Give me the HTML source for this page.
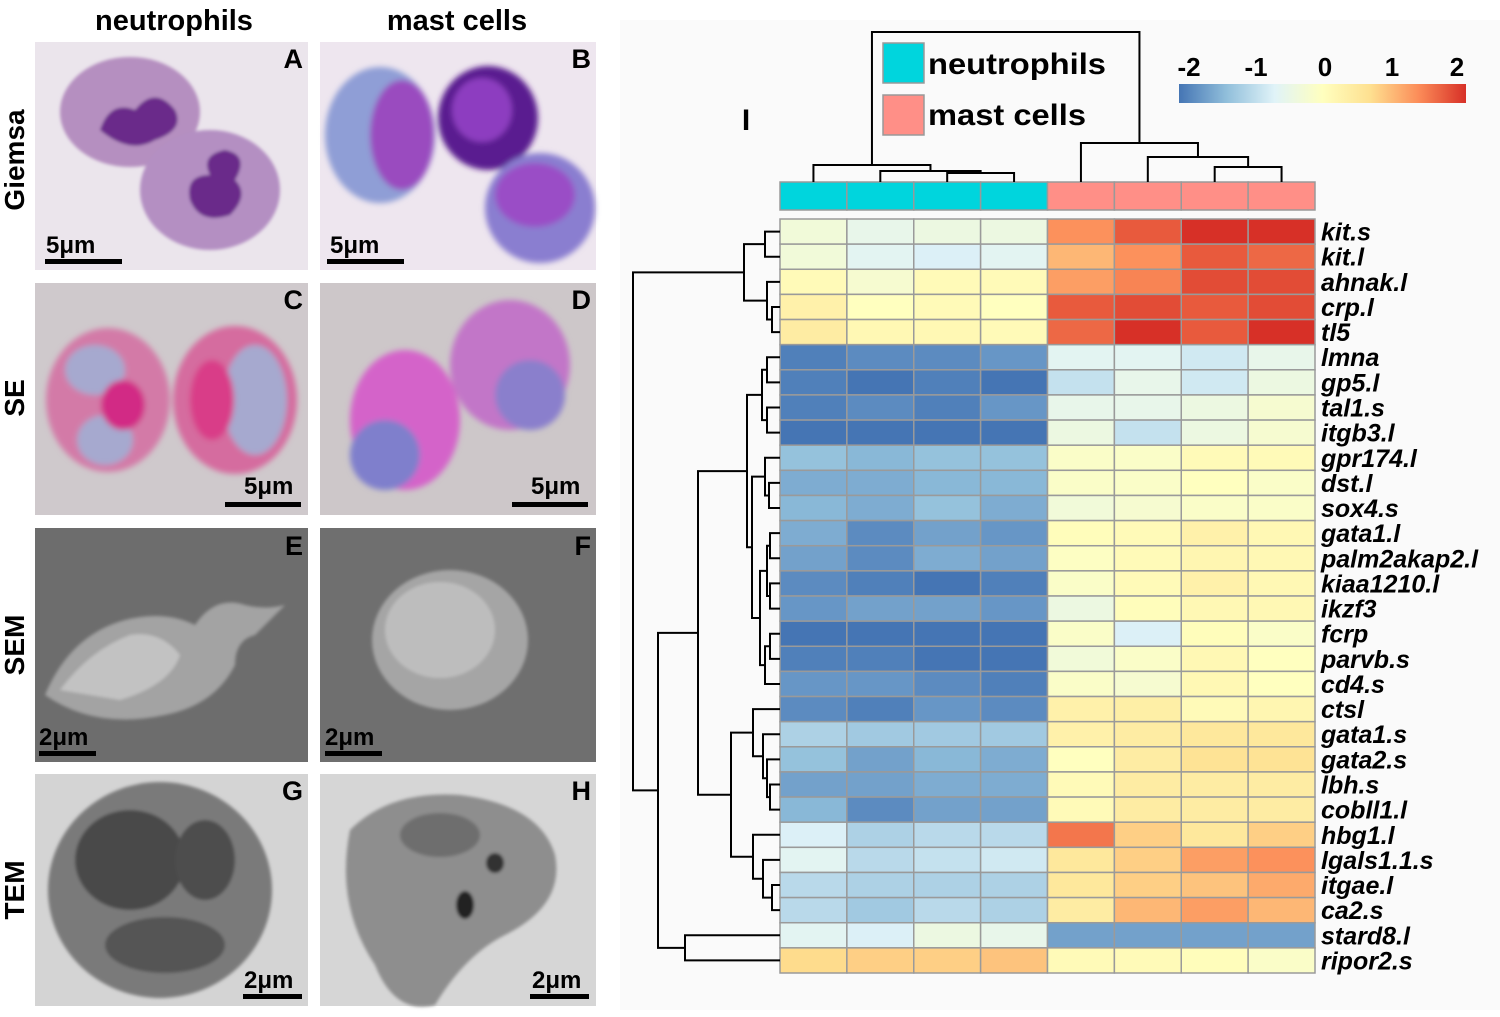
<!DOCTYPE html>
<html><head><meta charset="utf-8">
<style>
html,body{margin:0;padding:0;background:#fff;}
svg{display:block;font-family:"Liberation Sans",Arial,sans-serif;}
</style></head>
<body>
<svg id="fig" width="1500" height="1017" viewBox="0 0 1500 1017" xmlns="http://www.w3.org/2000/svg">
<defs>
<linearGradient id="scaleGrad" x1="0" x2="1" y1="0" y2="0">
<stop offset="0" stop-color="#4575B4"/><stop offset="0.1667" stop-color="#91BFDB"/><stop offset="0.3333" stop-color="#E0F3F8"/><stop offset="0.5" stop-color="#FFFFBF"/><stop offset="0.6667" stop-color="#FEE090"/><stop offset="0.8333" stop-color="#FC8D59"/><stop offset="1" stop-color="#D73027"/>
</linearGradient>
<filter id="blur2"><feGaussianBlur stdDeviation="3"/></filter>
<filter id="blur1"><feGaussianBlur stdDeviation="1.5"/></filter>
</defs>
<rect x="0" y="0" width="1500" height="1017" fill="#fff"/>
<rect x="620" y="20" width="880" height="990" fill="#fafafa"/>

<!-- left micrograph panels -->
<g>
<text x="174" y="30" text-anchor="middle" font-size="29" font-weight="bold">neutrophils</text>
<text x="457" y="30" text-anchor="middle" font-size="29" font-weight="bold">mast cells</text>
<text transform="translate(24,160) rotate(-90)" text-anchor="middle" font-size="28" font-weight="bold">Giemsa</text>
<text transform="translate(24,398) rotate(-90)" text-anchor="middle" font-size="28" font-weight="bold">SE</text>
<text transform="translate(24,645) rotate(-90)" text-anchor="middle" font-size="28" font-weight="bold">SEM</text>
<text transform="translate(24,890) rotate(-90)" text-anchor="middle" font-size="28" font-weight="bold">TEM</text>

<!-- A -->
<g>
<rect x="35" y="42" width="273" height="228" fill="#ebe5ec"/>
<g filter="url(#blur1)">
<ellipse cx="130" cy="112" rx="70" ry="55" fill="#b58fc0"/>
<ellipse cx="210" cy="190" rx="70" ry="60" fill="#b48fc2"/>
<path d="M100,130 q10,-30 35,-20 q20,-25 40,0 q10,20 -20,30 q-25,15 -55,-10z" fill="#6a2a8a"/>
<path d="M190,200 q-5,-25 20,-25 q-10,-20 15,-25 q25,5 10,30 q15,15 -5,35 q-30,10 -40,-15z" fill="#6a2a8a"/>
</g>
<text x="303" y="68" text-anchor="end" font-size="27" font-weight="bold">A</text>
<text x="46" y="253" font-size="24" font-weight="bold">5μm</text>
<rect x="45" y="259" width="77" height="5" fill="#000"/>
</g>
<!-- B -->
<g>
<rect x="320" y="42" width="276" height="228" fill="#eee6ef"/>
<g filter="url(#blur2)">
<ellipse cx="380" cy="135" rx="55" ry="68" fill="#8f9ed6"/>
<ellipse cx="402" cy="135" rx="32" ry="55" fill="#9a4bbf"/>
<ellipse cx="488" cy="118" rx="50" ry="52" fill="#5a1c90"/>
<ellipse cx="482" cy="110" rx="30" ry="32" fill="#8d3ec0"/>
<ellipse cx="540" cy="208" rx="55" ry="55" fill="#8a7ed0"/>
<ellipse cx="535" cy="195" rx="40" ry="32" fill="#9a4ec6"/>
</g>
<text x="591" y="68" text-anchor="end" font-size="27" font-weight="bold">B</text>
<text x="330" y="253" font-size="24" font-weight="bold">5μm</text>
<rect x="327" y="259" width="77" height="5" fill="#000"/>
</g>
<!-- C -->
<g>
<rect x="35" y="283" width="273" height="232" fill="#cfc9cc"/>
<g filter="url(#blur2)">
<ellipse cx="108" cy="400" rx="62" ry="72" fill="#d37aa7"/>
<ellipse cx="235" cy="400" rx="62" ry="74" fill="#d56c9f"/>
<ellipse cx="95" cy="370" rx="30" ry="25" fill="#a6a9cf"/>
<ellipse cx="105" cy="440" rx="28" ry="25" fill="#a6a9cf"/>
<ellipse cx="255" cy="400" rx="32" ry="55" fill="#a6a9cf"/>
<ellipse cx="123" cy="405" rx="22" ry="25" fill="#d22b85"/>
<ellipse cx="212" cy="400" rx="22" ry="40" fill="#d93d88"/>
</g>
<text x="303" y="309" text-anchor="end" font-size="27" font-weight="bold">C</text>
<text x="244" y="494" font-size="24" font-weight="bold">5μm</text>
<rect x="225" y="502" width="76" height="5" fill="#000"/>
</g>
<!-- D -->
<g>
<rect x="320" y="283" width="276" height="232" fill="#cdc7c9"/>
<g filter="url(#blur2)">
<ellipse cx="510" cy="365" rx="60" ry="65" fill="#c276c8"/>
<ellipse cx="530" cy="395" rx="35" ry="35" fill="#8a7fcc"/>
<ellipse cx="405" cy="420" rx="55" ry="70" fill="#d463c9"/>
<ellipse cx="385" cy="455" rx="35" ry="35" fill="#7f7fcc"/>
</g>
<text x="591" y="309" text-anchor="end" font-size="27" font-weight="bold">D</text>
<text x="531" y="494" font-size="24" font-weight="bold">5μm</text>
<rect x="512" y="502" width="76" height="5" fill="#000"/>
</g>
<!-- E -->
<g>
<rect x="35" y="528" width="273" height="234" fill="#6d6d6d"/>
<g filter="url(#blur1)">
<path d="M45,695 q25,-60 80,-75 q40,-10 70,5 q20,-30 50,-20 q20,5 40,0 l-30,30 q-20,5 -20,30 q-20,40 -70,50 q-70,15 -120,-20z" fill="#a3a3a3"/>
<path d="M60,690 q30,-40 70,-55 q30,-5 50,20 q-10,30 -60,45z" fill="#c2c2c2"/>
</g>
<text x="303" y="555" text-anchor="end" font-size="27" font-weight="bold">E</text>
<text x="39" y="745" font-size="24" font-weight="bold">2μm</text>
<rect x="39" y="751" width="57" height="5" fill="#000"/>
</g>
<!-- F -->
<g>
<rect x="320" y="528" width="276" height="234" fill="#6f6f6f"/>
<g filter="url(#blur1)">
<ellipse cx="450" cy="640" rx="78" ry="70" fill="#a5a5a5"/>
<ellipse cx="440" cy="630" rx="55" ry="48" fill="#bdbdbd"/>
</g>
<text x="591" y="555" text-anchor="end" font-size="27" font-weight="bold">F</text>
<text x="325" y="745" font-size="24" font-weight="bold">2μm</text>
<rect x="325" y="751" width="57" height="5" fill="#000"/>
</g>
<!-- G -->
<g>
<rect x="35" y="774" width="273" height="232" fill="#d4d4d4"/>
<g filter="url(#blur1)">
<ellipse cx="160" cy="890" rx="112" ry="108" fill="#7a7a7a"/>
<ellipse cx="130" cy="860" rx="55" ry="50" fill="#4a4a4a"/>
<ellipse cx="205" cy="860" rx="30" ry="40" fill="#4d4d4d"/>
<ellipse cx="165" cy="945" rx="60" ry="28" fill="#555"/>
</g>
<text x="303" y="800" text-anchor="end" font-size="27" font-weight="bold">G</text>
<text x="244" y="988" font-size="24" font-weight="bold">2μm</text>
<rect x="243" y="994" width="59" height="5" fill="#000"/>
</g>
<!-- H -->
<g>
<rect x="320" y="774" width="276" height="232" fill="#d6d6d6"/>
<g filter="url(#blur1)">
<path d="M350,830 q40,-40 110,-35 q80,10 95,60 q10,50 -50,80 q-40,20 -70,70 q-40,10 -60,-40 q-40,-60 -25,-135z" fill="#8e8e8e"/>
<ellipse cx="440" cy="835" rx="40" ry="22" fill="#6e6e6e"/>
<ellipse cx="465" cy="905" rx="9" ry="14" fill="#222"/>
<ellipse cx="495" cy="863" rx="9" ry="10" fill="#333"/>
</g>
<text x="591" y="800" text-anchor="end" font-size="27" font-weight="bold">H</text>
<text x="532" y="988" font-size="24" font-weight="bold">2μm</text>
<rect x="530" y="994" width="59" height="5" fill="#000"/>
</g>
</g>

<!-- heatmap static parts -->
<text x="746" y="130" text-anchor="middle" font-size="30" font-weight="bold">I</text>
<g id="heat"></g>
<g id="rowDendro"></g>
<g id="colDendro"></g>

<g>
<rect x="866" y="30" width="1" height="1" fill="none"/>
<rect x="883" y="43" width="41" height="40" fill="#00D5DD" stroke="#999" stroke-width="1.5"/>
<text x="928" y="74" font-size="30" font-weight="bold" textLength="178" lengthAdjust="spacingAndGlyphs" font-family="'Liberation Sans Narrow','Liberation Sans',sans-serif">neutrophils</text>
<rect x="883" y="95" width="41" height="40" fill="#FF8F87" stroke="#999" stroke-width="1.5"/>
<text x="928" y="125" font-size="30" font-weight="bold" textLength="158" lengthAdjust="spacingAndGlyphs" font-family="'Liberation Sans Narrow','Liberation Sans',sans-serif">mast cells</text>
</g>

<g>
<rect x="1179" y="84" width="287" height="19" fill="url(#scaleGrad)"/>
<g font-size="26" font-weight="bold" text-anchor="middle" font-family="'Liberation Sans Narrow','Liberation Sans',sans-serif">
<text x="1189" y="76">-2</text>
<text x="1256" y="76">-1</text>
<text x="1325" y="76">0</text>
<text x="1392" y="76">1</text>
<text x="1457" y="76">2</text>
</g>
</g>
</svg>
<script>
const genes = ["kit.s","kit.l","ahnak.l","crp.l","tl5","lmna","gp5.l","tal1.s","itgb3.l","gpr174.l","dst.l","sox4.s","gata1.l","palm2akap2.l","kiaa1210.l","ikzf3","fcrp","parvb.s","cd4.s","ctsl","gata1.s","gata2.s","lbh.s","cobll1.l","hbg1.l","lgals1.1.s","itgae.l","ca2.s","stard8.l","ripor2.s"];
const sampleGroups = ["neutrophils","neutrophils","neutrophils","neutrophils","mast cells","mast cells","mast cells","mast cells"];
const neutrophilValues = [
[-0.3,-0.5,-0.4,-0.4],[-0.3,-0.6,-0.7,-0.6],[0.1,-0.2,0.1,0.1],[0.3,0.0,0.1,0.0],[0.4,0.15,0.15,0.1],
[-1.9,-1.8,-1.8,-1.7],[-1.9,-2.0,-1.9,-2.0],[-1.9,-1.8,-1.9,-1.7],[-2.2,-2.2,-2.0,-2.2],
[-1.3,-1.4,-1.3,-1.3],[-1.5,-1.5,-1.4,-1.4],[-1.4,-1.5,-1.3,-1.5],[-1.5,-1.8,-1.6,-1.7],[-1.6,-1.8,-1.5,-1.6],
[-1.8,-1.9,-2.0,-1.9],[-1.7,-1.6,-1.6,-1.7],[-2.0,-2.0,-2.1,-2.0],[-1.9,-1.9,-2.0,-2.0],[-1.7,-1.7,-1.8,-1.9],
[-1.8,-1.9,-1.7,-1.8],[-1.1,-1.2,-1.2,-1.2],[-1.3,-1.6,-1.4,-1.5],[-1.6,-1.6,-1.5,-1.5],[-1.4,-1.8,-1.6,-1.6],
[-0.7,-1.1,-1.0,-1.0],[-0.6,-1.0,-0.9,-0.8],[-1.0,-1.1,-1.1,-1.1],[-1.0,-1.2,-1.0,-1.1],[-0.6,-0.7,-0.4,-0.5],[0.7,0.8,0.8,0.9]];
const mastValues = [
[1.3,1.7,2.1,2.1],[1.0,1.3,1.7,1.6],[1.2,1.4,1.8,1.8],[1.7,1.8,1.7,1.8],[1.6,2.1,1.7,2.1],
[-0.6,-0.6,-0.8,-0.5],[-0.9,-0.5,-0.8,-0.4],[-0.5,-0.5,-0.4,-0.2],[-0.4,-0.9,-0.4,-0.2],
[-0.1,-0.1,0.1,0.1],[-0.1,-0.1,0.0,-0.1],[-0.3,-0.2,-0.1,-0.1],[0.05,0.1,0.3,0.15],[-0.05,0.1,0.2,0.15],
[-0.1,0.1,0.3,0.15],[-0.4,0.05,0.15,0.15],[-0.1,-0.7,0.05,-0.1],[-0.3,-0.1,0.15,0.0],[-0.1,-0.2,0.15,0.0],
[0.3,0.35,0.1,0.2],[0.3,0.4,0.5,0.5],[0.0,0.4,0.6,0.6],[0.1,0.4,0.4,0.4],[0.1,0.4,0.4,0.4],
[1.5,0.8,0.5,0.8],[0.5,0.8,1.2,1.3],[0.5,0.8,0.9,1.1],[0.4,1.0,1.2,1.0],[-1.6,-1.6,-1.6,-1.6],[0.1,0.1,0.05,-0.1]];
const scaleStops = [-2,-1.333,-0.667,0,0.667,1.333,2];
const scaleColors = ["#4575B4","#91BFDB","#E0F3F8","#FFFFBF","#FEE090","#FC8D59","#D73027"];

const NS="http://www.w3.org/2000/svg";
const X0=780, X1=1315, Y0=219, Y1=973;
const nCols=8, nRows=genes.length;
const cw=(X1-X0)/nCols, rh=(Y1-Y0)/nRows;
function xScale(c){return X0+c*cw;}
function yScale(r){return Y0+r*rh;}
function hex2rgb(h){return [1,3,5].map(i=>parseInt(h.substr(i,2),16));}
function colorOf(v){
  v=Math.max(-2,Math.min(2,v));
  for(let i=0;i<scaleStops.length-1;i++){
    if(v<=scaleStops[i+1]){
      const t=(v-scaleStops[i])/(scaleStops[i+1]-scaleStops[i]);
      const a=hex2rgb(scaleColors[i]), b=hex2rgb(scaleColors[i+1]);
      return "rgb("+a.map((x,k)=>Math.round(x+(b[k]-x)*t)).join(",")+")";
    }
  }
  return scaleColors[scaleColors.length-1];
}
function mk(tag,attrs,parent){const e=document.createElementNS(NS,tag);for(const k in attrs)e.setAttribute(k,attrs[k]);parent.appendChild(e);return e;}
const heat=document.getElementById("heat");
// annotation bar
for(let c=0;c<nCols;c++){
  const r=mk("rect",{x:xScale(c),y:182,width:cw,height:28,fill:sampleGroups[c]==="neutrophils"?"#00D5DD":"#FF8F87",stroke:"#999","stroke-width":1.5},heat);
  
  
}
for(let r=0;r<nRows;r++){
  const vals=neutrophilValues[r].concat(mastValues[r]);
  for(let c=0;c<nCols;c++){
    const cell=mk("rect",{x:xScale(c),y:yScale(r),width:cw,height:rh,fill:colorOf(vals[c]),stroke:"#9a9a9a","stroke-width":1.5},heat);
    
    
  }
  const t=mk("text",{x:1321,y:yScale(r)+rh/2+9,"font-size":25,"font-weight":"bold","font-style":"italic","font-family":"'Liberation Sans Narrow','Liberation Sans',sans-serif"},heat);
  t.textContent=genes[r];
  
  
}
// row dendrogram: [x, left, right]; leaves are indices
const rowTree=[633,
 [744,[765,0,1],[767,2,[772,3,4]]],
 [658,
  [698,
   [747,[762,[767,5,6],[767,7,8]],
        [752,[765,9,[769,10,11]],[760,[767,[770,12,13],[770,14,15]],[765,[770,16,17],18]]]],
   [731,[753,19,[763,20,[767,21,[770,22,23]]]],[753,24,[763,25,[772,26,27]]]]],
  [685,28,29]]];
const rd=document.getElementById("rowDendro");
function drawRow(n){
  if(typeof n==="number") return {x:X0,y:yScale(n)+rh/2};
  const a=drawRow(n[1]), b=drawRow(n[2]), x=n[0];
  const p=mk("path",{d:`M${a.x},${a.y}H${x}V${b.y}H${b.x}`,fill:"none",stroke:"#000","stroke-width":2},rd);
  
  
  return {x:x,y:(a.y+b.y)/2};
}
const rroot=drawRow(rowTree);
// column dendrogram: [y, left, right]
const colTree=[32,[165,0,[171,1,[173,2,3]]],[143,4,[157,5,[167,6,7]]]];
const cd=document.getElementById("colDendro");
function drawCol(n){
  if(typeof n==="number") return {x:xScale(n)+cw/2,y:182};
  const a=drawCol(n[1]), b=drawCol(n[2]), y=n[0];
  const p=mk("path",{d:`M${a.x},${a.y}V${y}H${b.x}V${b.y}`,fill:"none",stroke:"#000","stroke-width":2},cd);
  
  
  return {x:(a.x+b.x)/2,y:y};
}
drawCol(colTree);
</script>
</body></html>
